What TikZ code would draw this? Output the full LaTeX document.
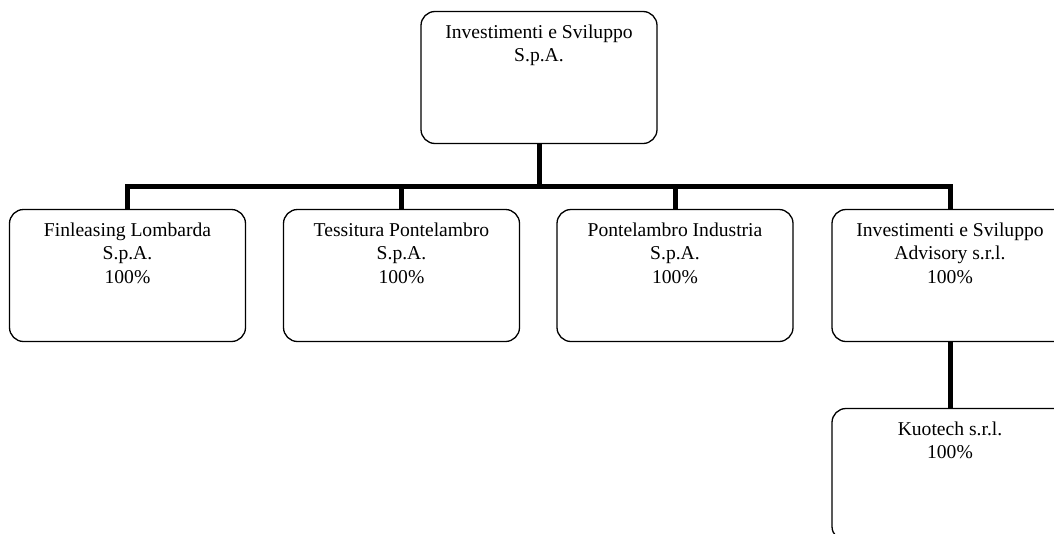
\documentclass[tikz,border=0pt]{standalone}
\usepackage{fontspec}
\setmainfont{Liberation Serif}
\begin{document}
\begin{tikzpicture}[x=1pt,y=-1pt,
  orgbox/.style={draw=black, line width=1.3pt, rounded corners=14pt, minimum width=236pt, minimum height=132pt, inner sep=0pt},
  txt/.style={anchor=north, align=center, inner sep=0pt, font=\fontsize{19.6}{23.5}\selectfont},
  conn/.style={draw=black, line width=5pt, line join=miter}]
\useasboundingbox (0,0) rectangle (1054,533);
\begin{scope}
\clip (0,0) rectangle (1054,533);
\node[orgbox] (top) at (539,77.5) {};
\node[orgbox] (b1) at (127.5,275.5) {};
\node[orgbox] (b2) at (401.5,275.5) {};
\node[orgbox] (b3) at (675,275.5) {};
\node[orgbox] (b4) at (950,275.5) {};
\node[orgbox] (b5) at (950,474.5) {};
\node[txt] (ttop) at ([yshift=-13.6pt]top.north) {Investimenti e Sviluppo\\S.p.A.};
\node[txt] (t1) at ([yshift=-13.6pt]b1.north) {Finleasing Lombarda\\S.p.A.\\100\%};
\node[txt] (t2) at ([yshift=-13.6pt]b2.north) {Tessitura Pontelambro\\S.p.A.\\100\%};
\node[txt] (t3) at ([yshift=-13.6pt]b3.north) {Pontelambro Industria\\S.p.A.\\100\%};
\node[txt] (t4) at ([yshift=-13.6pt]b4.north) {Investimenti e Sviluppo\\Advisory s.r.l.\\100\%};
\node[txt] (t5) at ([yshift=-13.6pt]b5.north) {Kuotech s.r.l.\\100\%};
\coordinate (bar) at (539,186);
\draw[conn] (top.south) -- (top.south |- bar);
\draw[conn] (b1.north) |- (b4.north |- bar) -- (b4.north);
\draw[conn] (b2.north) -- (b2.north |- bar);
\draw[conn] (b3.north) -- (b3.north |- bar);
\draw[conn] (b4.south) -- (b5.north);
\end{scope}
\end{tikzpicture}
\end{document}
